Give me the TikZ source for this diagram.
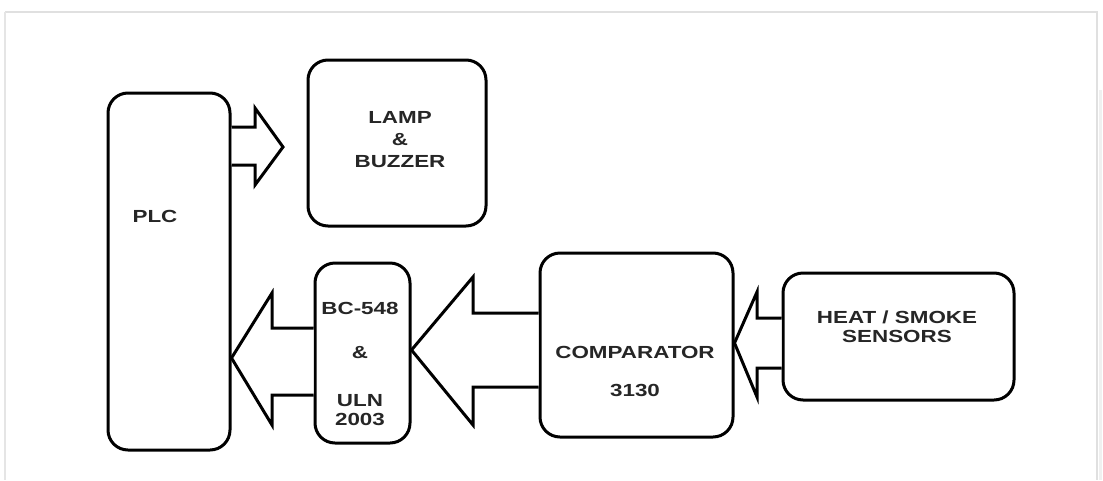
\documentclass[tikz,border=0pt]{standalone}
\usepackage{fontspec}
\setmainfont{Liberation Sans}[FakeStretch=1.28]
\begin{document}
\begin{tikzpicture}[x=1pt,y=-1pt,
  box/.style={draw=black,line width=3pt,rounded corners=20pt,fill=white,inner sep=0pt},
  blk/.style={draw=black,line width=3pt,fill=white,line join=miter},
  lbl/.style={font=\fontsize{17.5}{21}\selectfont\bfseries,text=black!85,inner sep=0pt,align=center}]
\useasboundingbox (0,0) rectangle (1103,480);
\fill[white] (0,0) rectangle (1103,480);
\draw[black!12,line width=1.2pt] (5,12) -- (1097,12) -- (1097,480);
\draw[black!10,line width=1.2pt] (5,12) -- (5,480);
\draw[black!6,line width=3pt] (1100,90) -- (1100,480);
% boxes
\node[box,minimum width=122pt,minimum height=357pt] (plc) at (169,271.5) {};
\node[box,minimum width=178pt,minimum height=166pt] (lamp) at (397,143) {};
\node[box,minimum width=95pt,minimum height=180pt] (bc) at (362.5,353) {};
\node[box,minimum width=193pt,minimum height=184pt] (comp) at (636.5,345) {};
\node[box,minimum width=231pt,minimum height=127pt] (heat) at (898.5,336.5) {};
% block arrows
\draw[blk] (plc.east |- 0,127) -- (255,127) -- (255,108) -- (283,147) -- (255,185) -- (255,165) -- (plc.east |- 0,165);
\draw[blk] (bc.west |- 0,328) -- (272,328) -- (272,293) -- (plc.east |- 0,358) -- (272,425) -- (272,395) -- (bc.west |- 0,395);
\draw[blk] (comp.west |- 0,313) -- (473,313) -- (473,277) -- (bc.east |- 0,350) -- (473,425) -- (473,387) -- (comp.west |- 0,387);
\draw[blk] (heat.west |- 0,318) -- (757,318) -- (757,292) -- (comp.east |- 0,343) -- (757,397) -- (757,368) -- (heat.west |- 0,368);
% labels
\node[lbl] (t-plc) at (155,216) {PLC};
\node[lbl] (t-lamp) at (400,140) {LAMP\\[1pt]\&\\[1pt]BUZZER};
\node[lbl] (t-bc1) at (360,308) {BC-548};
\node[lbl] (t-bc2) at (360,353) {\&};
\node[lbl] (t-bc3) at (360,410) {ULN\\[-2pt]2003};
\node[lbl] (t-comp1) at (635,352) {COMPARATOR};
\node[lbl] (t-comp2) at (635,390) {3130};
\node[lbl] (t-heat) at (897,327) {HEAT / SMOKE\\[-2pt]SENSORS};
\end{tikzpicture}
\end{document}
